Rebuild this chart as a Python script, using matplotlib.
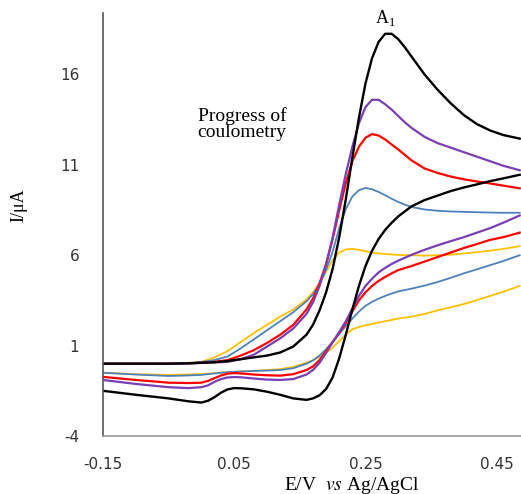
import matplotlib
matplotlib.use("Agg")
import matplotlib.pyplot as plt

plt.rcParams["axes.unicode_minus"] = False

# --- Data (potential in V vs Ag/AgCl, current in uA) ---
# forward (anodic) sweep
E_fwd = [-0.15, -0.10, -0.05, -0.02, 0.0, 0.02, 0.04, 0.06, 0.08, 0.10, 0.12, 0.14,
         0.16, 0.17, 0.18, 0.19, 0.20, 0.21, 0.22, 0.23, 0.24, 0.25, 0.26, 0.27,
         0.28, 0.29, 0.30, 0.31, 0.32, 0.34, 0.36, 0.38, 0.40, 0.42, 0.44, 0.46, 0.485]
black_fwd = [0.0, 0.0, 0.0, 0.02, 0.05, 0.08, 0.15, 0.25, 0.35, 0.45, 0.62, 0.95,
             1.6, 2.15, 2.95, 3.95, 5.25, 7.0, 9.1, 11.4, 13.6, 15.5, 16.9, 17.8,
             18.25, 18.25, 17.95, 17.5, 17.0, 16.0, 15.15, 14.4, 13.75, 13.25, 12.9, 12.65, 12.45]
purple_fwd = [0.0, 0.0, 0.0, 0.02, 0.05, 0.07, 0.1, 0.25, 0.5, 0.95, 1.4, 1.95,
              2.75, 3.4, 4.3, 5.5, 7.0, 8.8, 10.5, 12.0, 13.3, 14.2, 14.6, 14.6,
              14.35, 14.05, 13.7, 13.35, 13.05, 12.55, 12.2, 11.95, 11.7, 11.45, 11.2, 10.95, 10.7]
red_fwd = [0.0, 0.0, 0.0, 0.02, 0.05, 0.1, 0.2, 0.45, 0.75, 1.15, 1.6, 2.15,
           3.0, 3.6, 4.45, 5.5, 6.9, 8.5, 10.0, 11.2, 12.0, 12.5, 12.7, 12.62,
           12.4, 12.12, 11.85, 11.55, 11.25, 10.8, 10.55, 10.35, 10.2, 10.08, 9.97, 9.85, 9.7]
blue_fwd = [0.0, 0.0, 0.0, 0.03, 0.1, 0.2, 0.4, 0.85, 1.35, 1.85, 2.35, 2.85,
            3.45, 3.85, 4.4, 5.2, 6.2, 7.5, 8.55, 9.25, 9.6, 9.72, 9.65, 9.5,
            9.32, 9.12, 8.95, 8.8, 8.67, 8.53, 8.46, 8.42, 8.4, 8.38, 8.36, 8.35, 8.35]
yellow_fwd = [0.0, 0.0, 0.0, 0.05, 0.1, 0.35, 0.7, 1.2, 1.7, 2.15, 2.6, 3.0,
              3.55, 3.95, 4.45, 5.1, 5.75, 6.15, 6.32, 6.35, 6.3, 6.22, 6.15, 6.1,
              6.07, 6.04, 6.02, 6.0, 6.0, 5.98, 6.0, 6.03, 6.1, 6.17, 6.25, 6.35, 6.5]

# reverse (cathodic) sweep
E_rev = [0.485, 0.46, 0.44, 0.42, 0.40, 0.38, 0.36, 0.34, 0.32, 0.30, 0.29, 0.28,
         0.27, 0.26, 0.25, 0.24, 0.23, 0.22, 0.21, 0.20, 0.19, 0.18, 0.17, 0.16,
         0.14, 0.12, 0.10, 0.08, 0.06, 0.05, 0.04, 0.03, 0.02, 0.01, 0.0, -0.02,
         -0.05, -0.10, -0.15]
black_rev = [10.45, 10.25, 10.1, 9.92, 9.75, 9.55, 9.3, 9.05, 8.7, 8.15, 7.8, 7.4,
             6.9, 6.25, 5.4, 4.3, 3.0, 1.6, 0.3, -0.75, -1.4, -1.75, -1.92, -2.0,
             -1.92, -1.72, -1.55, -1.42, -1.36, -1.35, -1.42, -1.6, -1.85, -2.05, -2.15, -2.08,
             -1.92, -1.72, -1.5]
purple_rev = [8.2, 7.8, 7.5, 7.25, 7.0, 6.78, 6.55, 6.3, 6.02, 5.7, 5.52, 5.3,
              5.05, 4.7, 4.3, 3.75, 3.05, 2.35, 1.75, 1.2, 0.6, 0.05, -0.35, -0.6,
              -0.85, -0.9, -0.88, -0.82, -0.75, -0.74, -0.76, -0.85, -1.0, -1.2, -1.3, -1.35,
              -1.3, -1.12, -0.9]
red_rev = [7.25, 7.0, 6.85, 6.62, 6.4, 6.15, 5.9, 5.65, 5.4, 5.18, 5.0, 4.8,
           4.58, 4.3, 3.95, 3.5, 2.9, 2.25, 1.7, 1.2, 0.7, 0.2, -0.15, -0.35,
           -0.58, -0.66, -0.64, -0.6, -0.54, -0.52, -0.55, -0.65, -0.8, -0.95, -1.05, -1.07,
           -1.05, -0.9, -0.73]
blue_rev = [6.0, 5.68, 5.45, 5.22, 5.0, 4.75, 4.52, 4.32, 4.15, 4.0, 3.88, 3.75,
            3.6, 3.42, 3.2, 2.88, 2.5, 2.08, 1.65, 1.2, 0.8, 0.45, 0.18, 0.0,
            -0.25, -0.35, -0.38, -0.4, -0.43, -0.45, -0.47, -0.5, -0.54, -0.58, -0.62, -0.65,
            -0.68, -0.6, -0.5]
yellow_rev = [4.3, 3.98, 3.75, 3.52, 3.3, 3.12, 2.95, 2.75, 2.6, 2.5, 2.42, 2.35,
              2.28, 2.2, 2.12, 2.03, 1.9, 1.62, 1.25, 0.9, 0.6, 0.38, 0.2, 0.05,
              -0.18, -0.3, -0.35, -0.4, -0.43, -0.45, -0.47, -0.49, -0.52, -0.55, -0.57, -0.6,
              -0.62, -0.58, -0.5]

x_ticks = [-0.15, 0.05, 0.25, 0.45]
x_ticklabels = ["-0.15", "0.05", "0.25", "0.45"]
y_ticks = [-4, 1, 6, 11, 16]

# --- Plot ---
fig = plt.figure(figsize=(5.21, 4.94), dpi=100)
ax = fig.add_axes([0.1977, 0.1174, 0.8023, 0.8563])

curves = [
    (yellow_fwd, yellow_rev, "#FFC000", 1.3),
    (blue_fwd, blue_rev, "#4F81BD", 1.3),
    (red_fwd, red_rev, "#FF0000", 1.6),
    (purple_fwd, purple_rev, "#7B3FB5", 1.6),
    (black_fwd, black_rev, "#000000", 1.7),
]
for fwd, rev, color, lw in curves:
    ax.plot(E_fwd, fwd, color=color, lw=lw, solid_joinstyle="round")
    ax.plot(E_rev, rev, color=color, lw=lw, solid_joinstyle="round")

ax.set_xlim(-0.15, 0.487)
ax.set_ylim(-4, 19.4)
ax.set_xticks(x_ticks)
ax.set_xticklabels(x_ticklabels)
ax.set_yticks(y_ticks)
ax.tick_params(axis="both", length=0, labelsize=11, colors="#333333")
ax.tick_params(axis="x", pad=15)
ax.tick_params(axis="y", pad=17)

for side in ["top", "right"]:
    ax.spines[side].set_visible(False)
ax.spines["left"].set_color("#555555")
ax.spines["bottom"].set_color("#999999")
ax.spines["left"].set_linewidth(1.2)
ax.spines["bottom"].set_linewidth(1.2)

serif = "Liberation Serif"
ax.text(0.281, 19.1, r"A$_\mathregular{1}$", family=serif, fontsize=13,
        ha="center", va="center")
ax.text(0.062, 13.25, "Progress of\ncoulometry", family=serif, fontsize=14,
        ha="center", va="center", linespacing=0.9)

fig.text(19 / 521, 1 - 205 / 494, "I/\u03bcA", family=serif, fontsize=13,
         rotation=90, ha="center", va="center")
fig.text(352 / 521, 1 - 485 / 494, "E/V  $\\mathit{vs}$ Ag/AgCl", family=serif,
         fontsize=14, ha="center", va="center", math_fontfamily="stix")

fig.savefig("out.png", dpi=100)
